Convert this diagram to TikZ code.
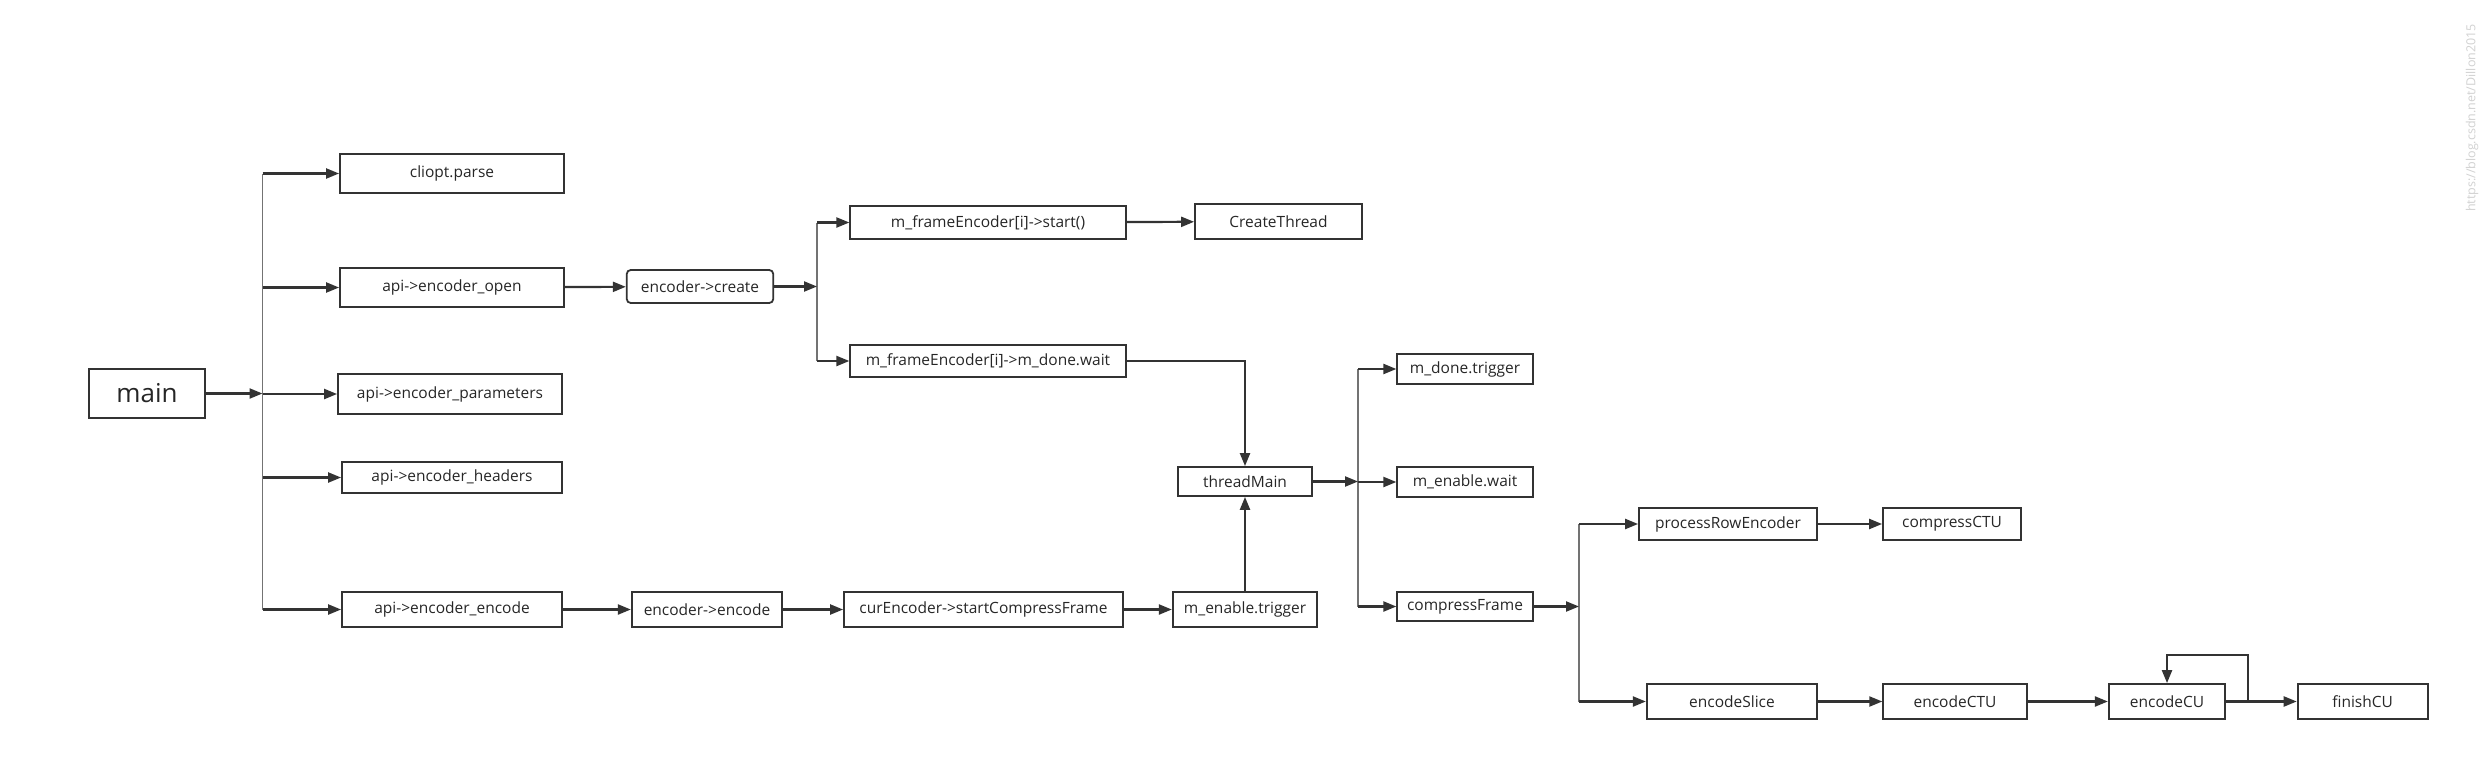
\documentclass[tikz,border=0pt]{standalone}
\usepackage{fontspec}
\setmainfont{Open Sans}
\usetikzlibrary{arrows.meta}
\tikzset{
  box/.style 2 args={draw=black!80, line width=1.8pt, inner sep=0pt, minimum width=#1, minimum height=#2, font=\fontsize{15.5}{18}\selectfont, text=black!85},
  arr/.style={-{Triangle[length=13pt,width=10pt]}, line width=2.2pt, draw=black!80},
  trunk/.style={line width=1.5pt, draw=black!55}
}
\begin{document}
\begin{tikzpicture}[x=1pt,y=-1pt]
\useasboundingbox (0,0) rectangle (2490,781);
\node[box={116.5pt}{49pt}, font=\fontsize{26}{30}\selectfont] (main) at (147,393.5) {main};
\node[box={224pt}{39pt}] (cliopt) at (452,173.5) {cliopt.parse};
\node[box={224pt}{39pt}] (open) at (452,287.5) {api->encoder\_open};
\node[box={224pt}{40pt}] (params) at (450,394) {api->encoder\_parameters};
\node[box={220pt}{31pt}] (headers) at (452,477.5) {api->encoder\_headers};
\node[box={220pt}{35pt}] (enc) at (452,609.5) {api->encoder\_encode};
\node[box={146.5pt}{33pt}, rounded corners=4pt] (create) at (700,286.5) {encoder->create};
\node[box={275.5pt}{33pt}] (start) at (988,222.5) {m\_frameEncoder[i]->start()};
\node[box={167pt}{35pt}] (cthread) at (1278.5,221.5) {CreateThread};
\node[box={275.5pt}{32pt}] (wait) at (988,361) {m\_frameEncoder[i]->m\_done.wait};
\node[box={134.5pt}{29pt}] (tmain) at (1245,481.5) {threadMain};
\node[box={150.5pt}{35pt}] (encode) at (707,609.5) {encoder->encode};
\node[box={279pt}{35pt}] (scf) at (983.5,609.5) {curEncoder->startCompressFrame};
\node[box={144.5pt}{35pt}] (trig) at (1245,609.5) {m\_enable.trigger};
\node[box={135.5pt}{30pt}] (mdone) at (1465,369) {m\_done.trigger};
\node[box={135.5pt}{30pt}] (mwait) at (1465,482) {m\_enable.wait};
\node[box={135.5pt}{29pt}] (cframe) at (1465,606.5) {compressFrame};
\node[box={178pt}{32pt}] (prow) at (1728,524) {processRowEncoder};
\node[box={138pt}{32pt}] (ctu) at (1952,524) {compressCTU};
\node[box={170.5pt}{35pt}] (eslice) at (1732,701.5) {encodeSlice};
\node[box={143.6pt}{35pt}] (ectu) at (1955,701.5) {encodeCTU};
\node[box={116.5pt}{35pt}] (ecu) at (2167,701.5) {encodeCU};
\node[box={130pt}{35pt}] (fcu) at (2362.6,701.5) {finishCU};
\node[rotate=90, text=black!18, font=\fontsize{12.5}{14}\selectfont] (wm) at (2472,118) {https://blog.csdn.net/Dillon2015};
\coordinate (t1) at (262.5,393.5);
\coordinate (t2) at (817,286.5);
\coordinate (t3) at (1358,481.5);
\coordinate (t4) at (1579,606.5);
\coordinate (lp) at (2248,701.5);
\coordinate (lptop) at (2248,654.7);
\draw[trunk] (t1 |- cliopt) -- (t1 |- enc);
\draw[trunk] (t2 |- start) -- (t2 |- wait);
\draw[trunk] (t3 |- mdone) -- (t3 |- cframe);
\draw[trunk] (t4 |- prow) -- (t4 |- eslice);
\draw[arr] (main) -- (t1);
\foreach \n in {cliopt,open,params,headers,enc} \draw[arr] (t1 |- \n) -- (\n);
\draw[arr] (open) -- (create);
\draw[arr] (create) -- (t2);
\foreach \n in {start,wait} \draw[arr] (t2 |- \n) -- (\n);
\draw[arr] (start) -- (cthread);
\draw[arr] (wait) -| (tmain);
\draw[arr] (enc) -- (encode);
\draw[arr] (encode) -- (scf);
\draw[arr] (scf) -- (trig);
\draw[arr] (trig) -- (tmain);
\draw[arr] (tmain) -- (t3);
\foreach \n in {mdone,mwait,cframe} \draw[arr] (t3 |- \n) -- (\n);
\draw[arr] (cframe) -- (t4);
\foreach \n in {prow,eslice} \draw[arr] (t4 |- \n) -- (\n);
\draw[arr] (prow) -- (ctu);
\draw[arr] (eslice) -- (ectu);
\draw[arr] (ectu) -- (ecu);
\draw[arr] (ecu) -- (fcu);
\draw[arr] (lp) -- (lptop) -| (ecu);
\end{tikzpicture}
\end{document}
